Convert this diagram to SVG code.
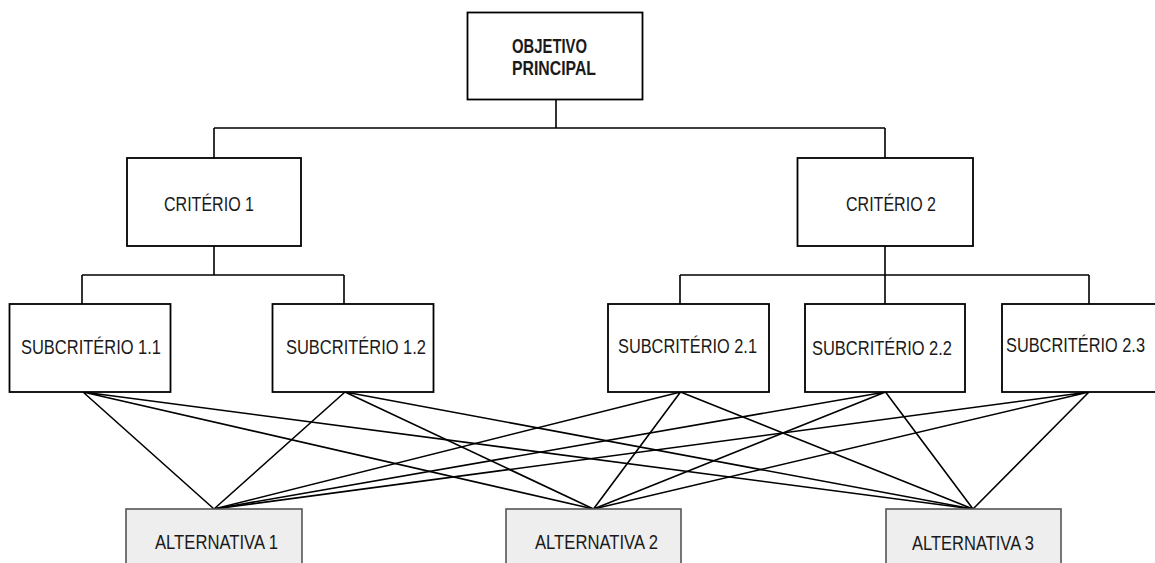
<svg xmlns="http://www.w3.org/2000/svg" width="1155" height="563" viewBox="0 0 1155 563">
  <style>
    .box { fill: #ffffff; stroke: #000000; stroke-width: 1.8; }
    .alt { fill: #eeeeee; stroke: #555555; stroke-width: 1.6; }
    .lbl { font-family: "Liberation Sans", Arial, sans-serif; font-size: 19.5px; fill: #1a1a1a; }
    .bold { font-weight: bold; }
    .wire { fill: none; stroke: #000000; stroke-width: 1.6; }
  </style>
  <rect width="1155" height="563" fill="#ffffff"/>

  <!-- connectors -->
  <g id="connectors" class="wire">
    <!-- hierarchy -->
    <path d="M556 100 V128 M214 128 H885 M214 128 V158 M885 128 V158"/>
    <path d="M214 246 V275 M82 275 H344 M82 275 V304 M344 275 V304"/>
    <path d="M885 246 V275 M680 275 H1089 M680 275 V304 M885 275 V304 M1089 275 V304"/>
    <!-- sub-criteria to alternatives -->
    <path d="M83 392 L214 509 M83 392 L593.5 509 M83 392 L973 509"/>
    <path d="M345 392 L214 509 M345 392 L593.5 509 M345 392 L973 509"/>
    <path d="M680.5 392 L214 509 M680.5 392 L593.5 509 M680.5 392 L973 509"/>
    <path d="M885.5 392 L214 509 M885.5 392 L593.5 509 M885.5 392 L973 509"/>
    <path d="M1089 392 L214 509 M1089 392 L593.5 509 M1089 392 L973 509"/>
  </g>

  <g id="objetivo">
    <rect class="box" x="467.5" y="12.5" width="175" height="87"/>
    <text class="lbl bold" x="512" y="53" textLength="75" lengthAdjust="spacingAndGlyphs">OBJETIVO</text>
    <text class="lbl bold" x="512" y="75" textLength="84" lengthAdjust="spacingAndGlyphs">PRINCIPAL</text>
  </g>

  <g id="criterio1">
    <rect class="box" x="127" y="158" width="174" height="88"/>
    <text class="lbl" x="164" y="211" textLength="90" lengthAdjust="spacingAndGlyphs">CRITÉRIO 1</text>
  </g>
  <g id="criterio2">
    <rect class="box" x="797.5" y="158" width="175.5" height="88"/>
    <text class="lbl" x="846" y="211" textLength="90" lengthAdjust="spacingAndGlyphs">CRITÉRIO 2</text>
  </g>

  <g id="sub11">
    <rect class="box" x="9.5" y="304" width="161" height="88"/>
    <text class="lbl" x="21" y="354" textLength="140" lengthAdjust="spacingAndGlyphs">SUBCRITÉRIO 1.1</text>
  </g>
  <g id="sub12">
    <rect class="box" x="272.5" y="304" width="161" height="88"/>
    <text class="lbl" x="286" y="354" textLength="140" lengthAdjust="spacingAndGlyphs">SUBCRITÉRIO 1.2</text>
  </g>
  <g id="sub21">
    <rect class="box" x="608" y="304" width="161" height="88"/>
    <text class="lbl" x="618" y="353" textLength="139" lengthAdjust="spacingAndGlyphs">SUBCRITÉRIO 2.1</text>
  </g>
  <g id="sub22">
    <rect class="box" x="805" y="304" width="160" height="88"/>
    <text class="lbl" x="812" y="355" textLength="140" lengthAdjust="spacingAndGlyphs">SUBCRITÉRIO 2.2</text>
  </g>
  <g id="sub23">
    <rect class="box" x="1002" y="304" width="163" height="88"/>
    <text class="lbl" x="1006" y="352" textLength="139" lengthAdjust="spacingAndGlyphs">SUBCRITÉRIO 2.3</text>
  </g>

  <g id="alternativa1">
    <rect class="alt" x="126" y="509" width="176" height="70"/>
    <text class="lbl" x="155" y="549" textLength="123" lengthAdjust="spacingAndGlyphs">ALTERNATIVA 1</text>
  </g>
  <g id="alternativa2">
    <rect class="alt" x="506" y="509" width="175" height="70"/>
    <text class="lbl" x="535" y="549" textLength="123" lengthAdjust="spacingAndGlyphs">ALTERNATIVA 2</text>
  </g>
  <g id="alternativa3">
    <rect class="alt" x="886" y="509" width="175" height="70"/>
    <text class="lbl" x="912" y="550" textLength="122" lengthAdjust="spacingAndGlyphs">ALTERNATIVA 3</text>
  </g>
</svg>
